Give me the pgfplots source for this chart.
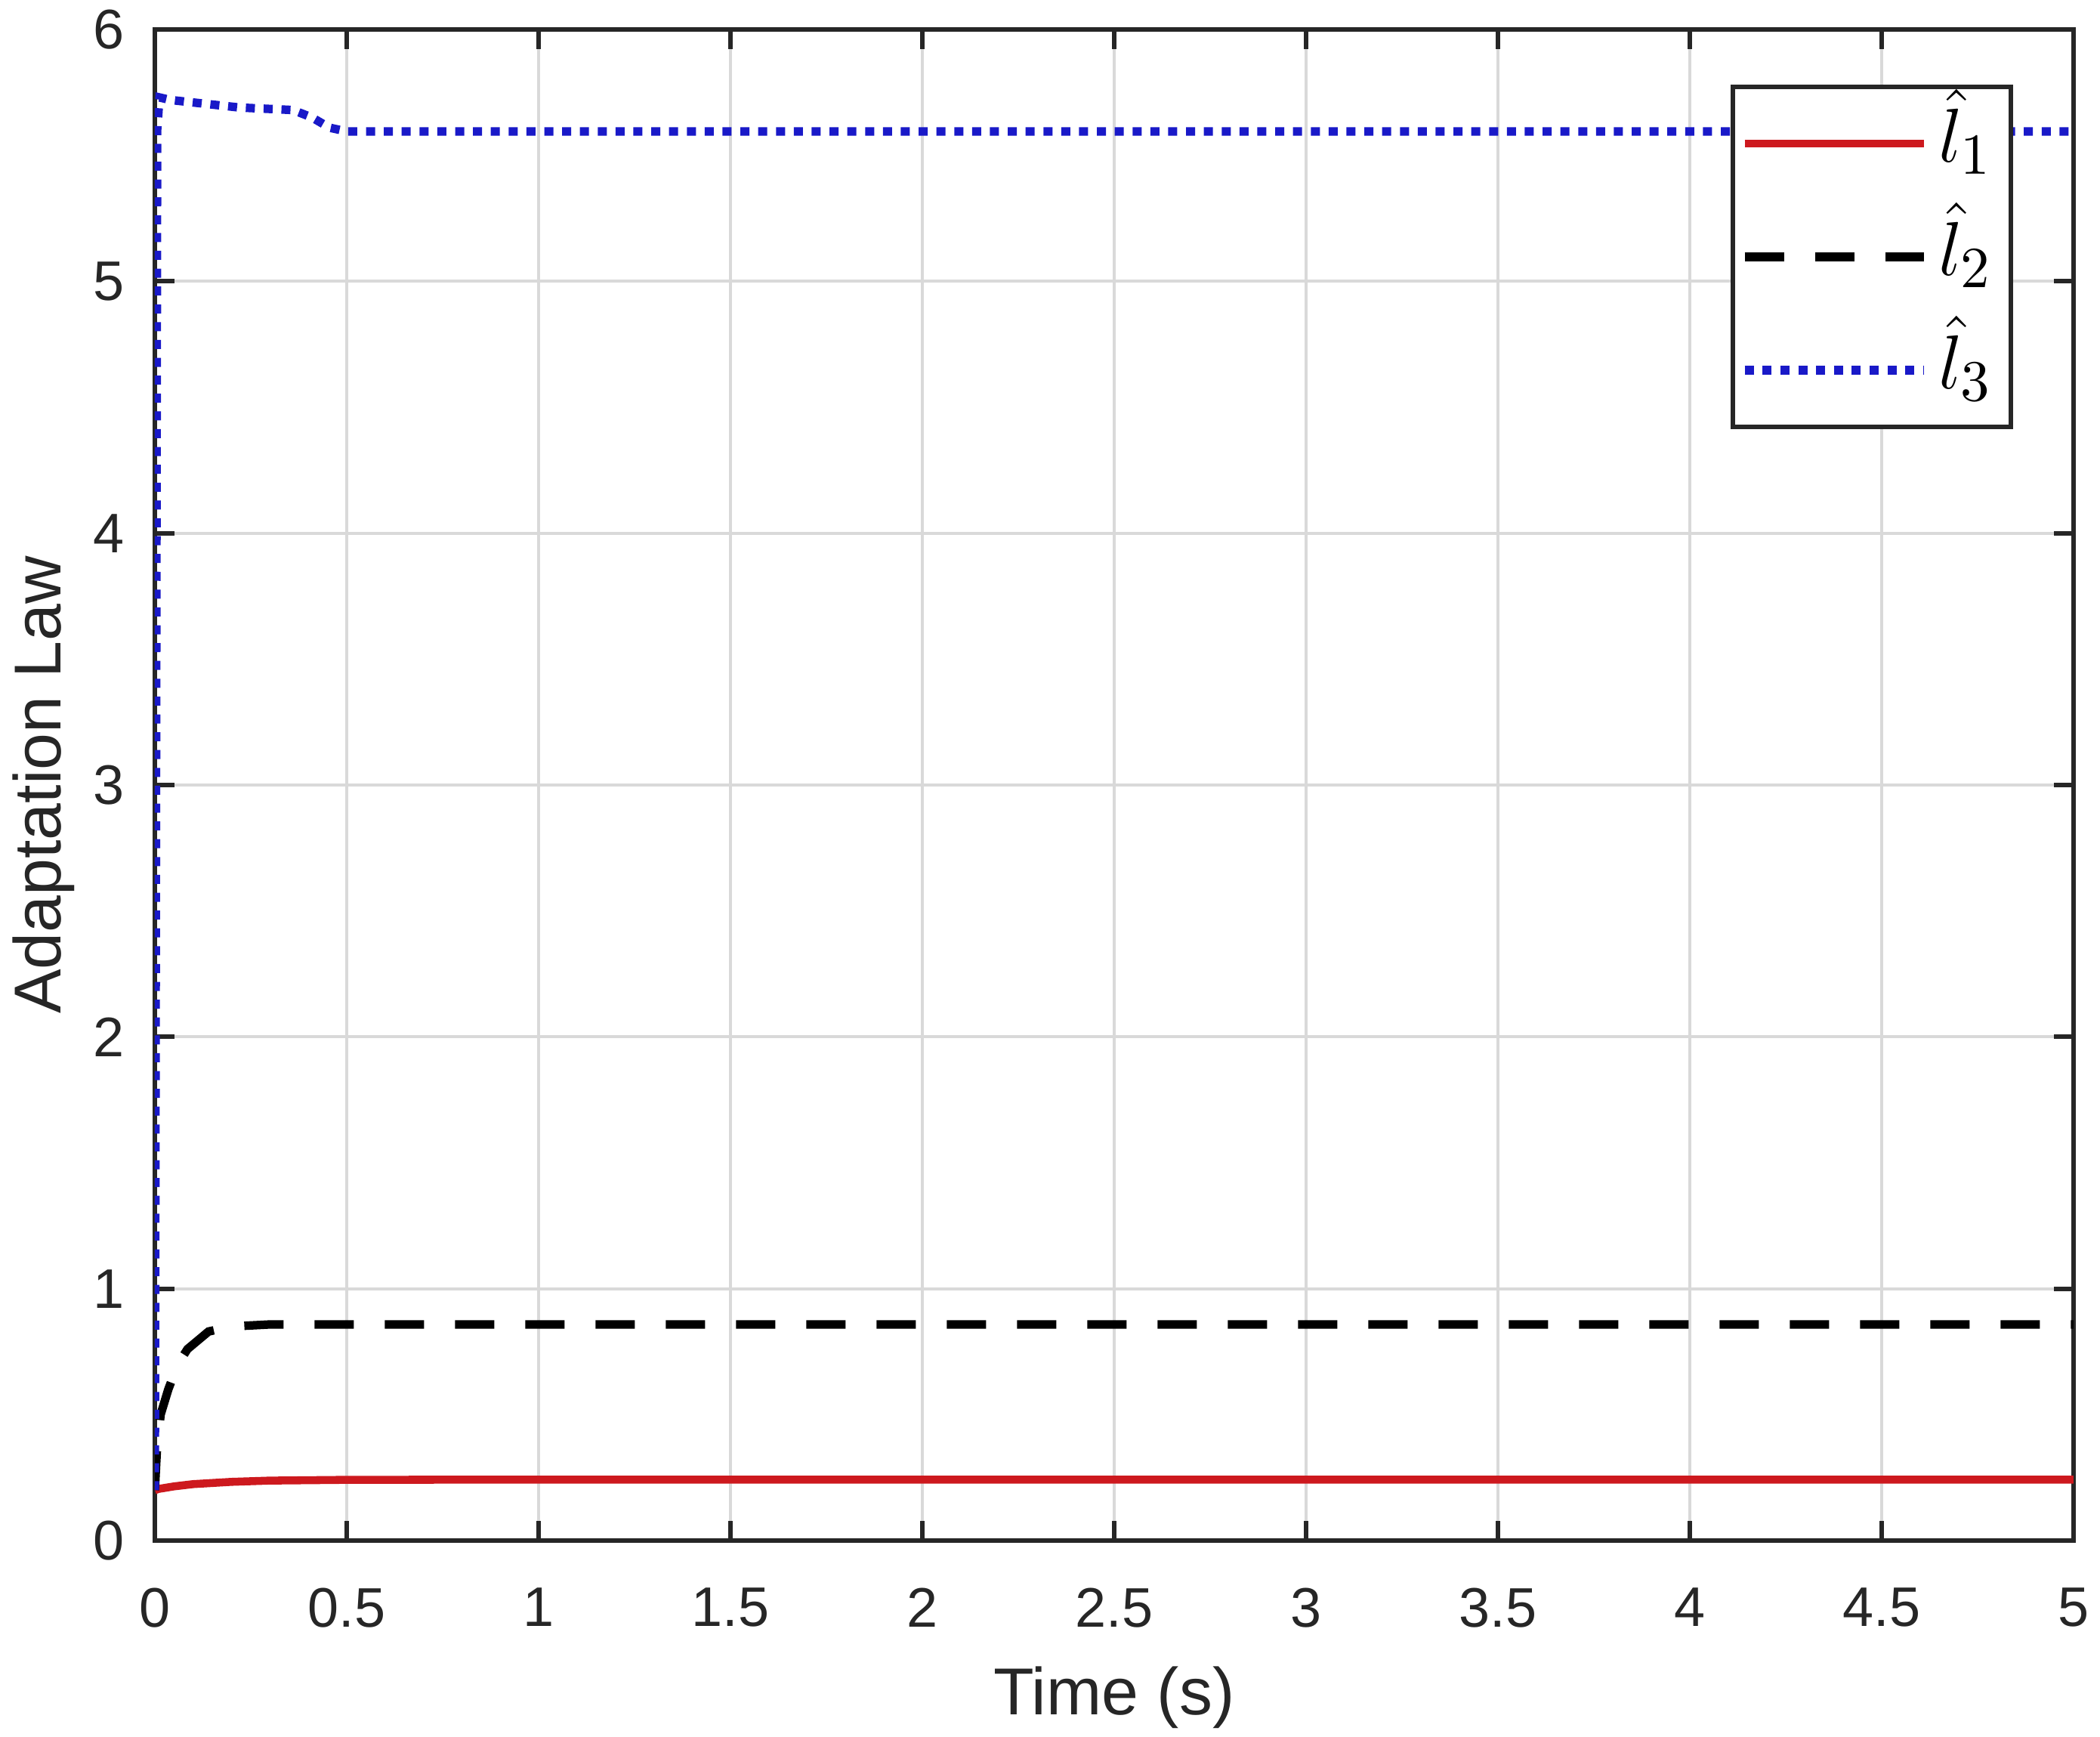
\documentclass[border=0pt]{standalone}
\usepackage{fontspec}
\setmainfont{Liberation Sans}
\usepackage{pgfplots}
\pgfplotsset{compat=1.18}
\definecolor{mred}{RGB}{205,25,30}
\definecolor{mblue}{RGB}{25,25,200}
\definecolor{axgray}{RGB}{38,38,38}
\begin{document}
\begin{tikzpicture}
\useasboundingbox (-1.025cm,-1.3cm) rectangle (12.875cm,10.195cm);
\begin{axis}[
  at={(0,0)}, anchor=south west,
  scale only axis,
  width=12.7cm, height=10cm,
  xmin=0, xmax=5, ymin=0, ymax=6,
  xtick={0,0.5,...,5}, ytick={0,1,...,6},
  xticklabels={0,0.5,1,1.5,2,2.5,3,3.5,4,4.5,5},
  grid=major,
  major grid style={draw=black!15, line width=0.6pt},
  axis line style={draw=axgray, line width=0.85pt},
  tick style={draw=axgray, line width=0.85pt},
  tick align=inside,
  major tick length=0.13cm,
  xtick pos=both, ytick pos=both,
  /pgf/number format/assume math mode=true,
  ticklabel style={font=\fontsize{10.5}{12}\selectfont, text=axgray},
  xticklabel style={yshift=-0.19cm},
  yticklabel style={xshift=-0.08cm},
  xlabel={Time (s)},
  ylabel={Adaptation Law},
  label style={font=\fontsize{12.5}{14}\selectfont, text=axgray},
  xlabel style={at={(axis description cs:0.5,-0.1155)}, anchor=base},
  ylabel style={at={(axis description cs:-0.0492,0.5)}, anchor=base},
  legend style={at={(axis description cs:0.9685,0.9635)}, anchor=north east,
    draw=axgray, line width=0.85pt, fill=white,
    inner xsep=0.05cm, inner ysep=0.0cm, row sep=0pt,
    font=\fontsize{15.5}{18}\selectfont,
    nodes={text height=0.5cm, text depth=0.25cm, inner ysep=0pt}},
  legend cell align=left,
  legend image code/.code={\draw[#1] (0cm,0cm) -- (1.185cm,0cm);},
]
\addplot[mred, line width=1.5pt] coordinates {
 (0,0.2) (0.01,0.205) (0.05,0.215) (0.1,0.224) (0.2,0.233) (0.3,0.238) (0.5,0.241) (1,0.242) (5,0.242)};
\addlegendentry{$\hat{l}_1$}
\addplot[black, line width=1.6pt, dash pattern=on 0.26cm off 0.205cm] coordinates {
 (0,0.2) (0.005,0.35) (0.015,0.5) (0.035,0.6) (0.06,0.7) (0.085,0.76) (0.14,0.83) (0.2,0.85) (0.3,0.858) (5,0.858)};
\addlegendentry{$\hat{l}_2$}
\addplot[mblue, line width=1.6pt, dash pattern=on 0.06cm off 0.058cm] coordinates {
 (0,0.2) (0.006,5.6) (0.012,5.73) (0.04,5.72) (0.22,5.69) (0.36,5.68) (0.41,5.65) (0.455,5.61) (0.5,5.595) (5,5.595)};
\addlegendentry{$\hat{l}_3$}
\end{axis}
\end{tikzpicture}
\end{document}
